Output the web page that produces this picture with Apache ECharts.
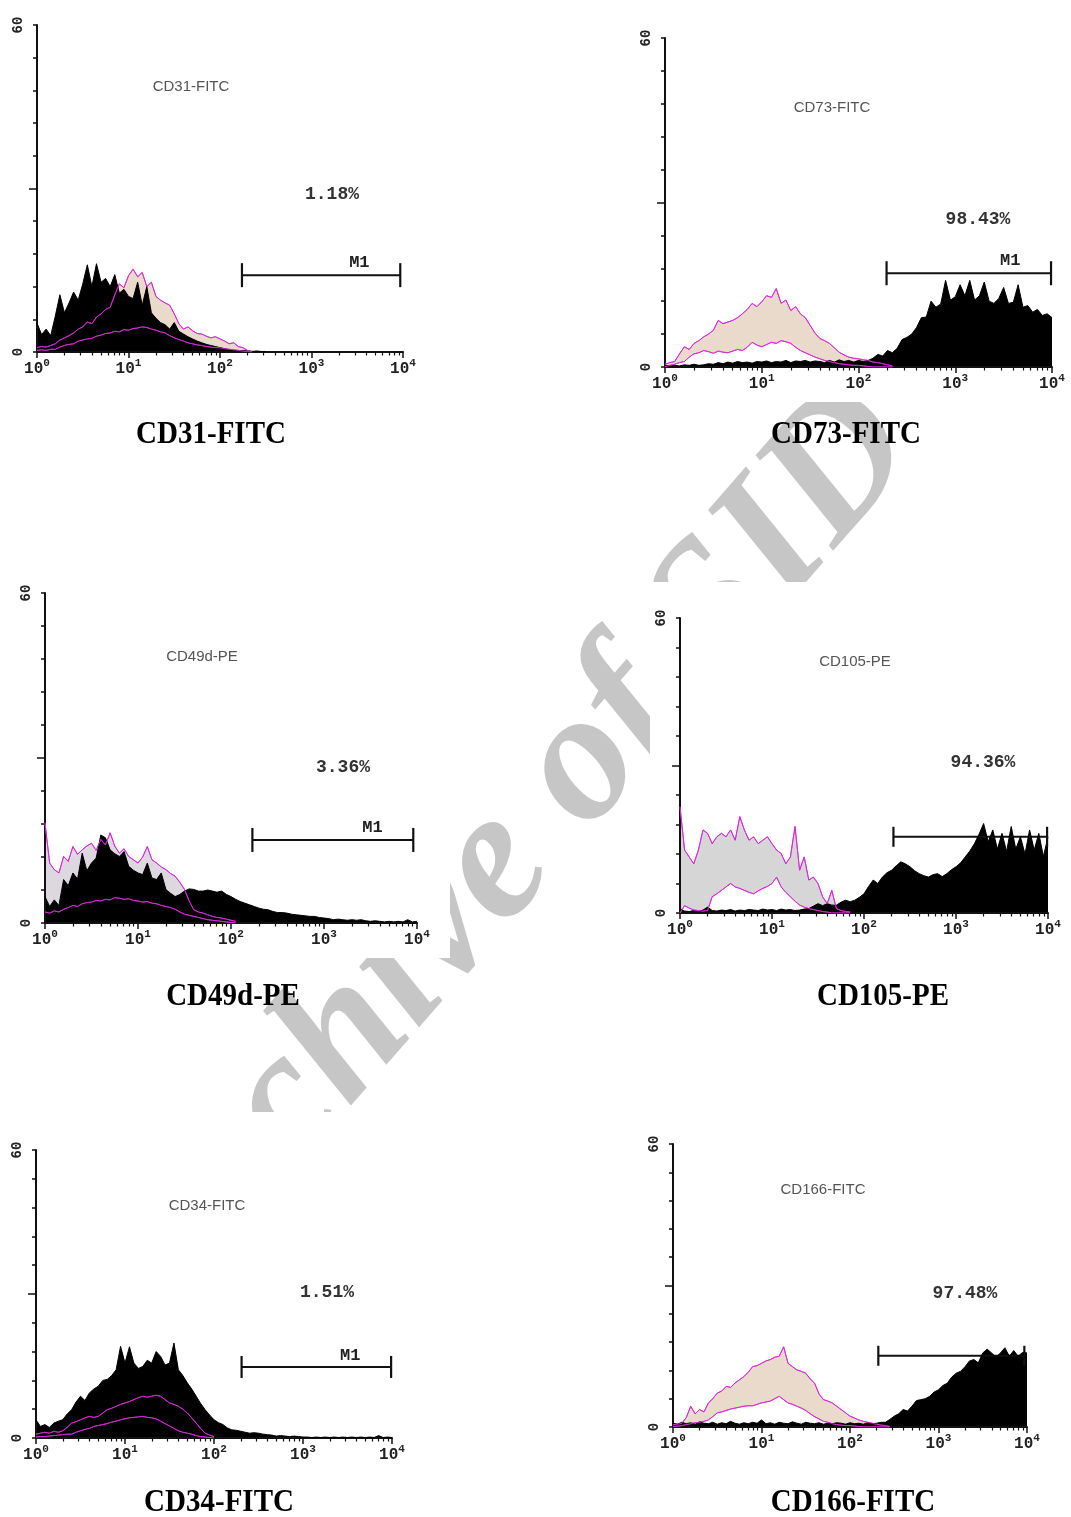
<!DOCTYPE html>
<html><head><meta charset="utf-8">
<script src="https://cdn.jsdelivr.net/npm/echarts@6/dist/echarts.min.js"></script>
<style>html,body{margin:0;padding:0;background:#fff}#c{width:1071px;height:1517px}</style>
</head><body><div id="c"></div>
<script>
// ---------------- DATA ----------------
// fluorescence channel positions, in decades (10^0 .. 10^4)
const CHANNELS = [0,0.05,0.1,0.15,0.2,0.25,0.3,0.35,0.4,0.45,0.5,0.55,0.6,0.65,0.7,0.75,0.8,0.85,0.9,0.95,
  1,1.05,1.1,1.15,1.2,1.25,1.3,1.35,1.4,1.45,1.5,1.55,1.6,1.65,1.7,1.75,1.8,1.85,1.9,1.95,
  2,2.05,2.1,2.15,2.2,2.25,2.3,2.35,2.4,2.45,2.5,2.55,2.6,2.65,2.7,2.75,2.8,2.85,2.9,2.95,
  3,3.05,3.1,3.15,3.2,3.25,3.3,3.35,3.4,3.45,3.5,3.55,3.6,3.65,3.7,3.75,3.8,3.85,3.9,3.95,4];

const MARKERS = ['CD31-FITC','CD73-FITC','CD49d-PE','CD105-PE','CD34-FITC','CD166-FITC'];
const PERCENT_LABELS = ['1.18%','98.43%','3.36%','94.36%','1.51%','97.48%'];
const GATE_LABEL = 'M1';
const GATE_FROM = [2.24,2.29,2.23,2.32,2.31,2.32];
const GATE_TO = [3.97,3.99,3.96,3.99,3.99,3.97];
const GATE_LEVEL = [14.1,17.1,15.1,15.5,14.8,15.1];
const GATE_LABEL_SHOWN = [true,true,true,false,true,false];
const X_TICK_BASE = '10';
const X_TICK_EXPONENTS = ['0','1','2','3','4'];
const Y_TICK_LABELS = [0,60];
const WATERMARK = 'Archive of SID';

// counts per channel: stained sample (black) and isotype control (upper / lower trace)
const CD31_SAMPLE = [5.3,3.2,4.2,3.0,6.6,10.5,7.2,9.0,11.0,9.5,12.5,16.0,12.0,16.2,12.8,13.5,12.0,14.2,10.8,11.5,
  10.2,9.8,12.8,8.6,12.0,7.2,6.2,5.4,5.0,4.2,5.4,3.8,3.3,2.8,2.4,2.0,1.7,1.4,1.2,1.0,
  0.8,0.6,0.4,0.3,0.2,0.3,0.2,0.1,0.2,0.1,0.1];
const CD31_CTRL_HIGH = [0.8,1.0,0.9,1.2,1.5,2.2,2.6,3.0,3.5,4.2,4.6,5.5,5.2,6.4,7.0,7.8,8.2,10.5,12.5,11.8,
  14.0,15.2,13.8,14.6,12.0,12.8,10.2,9.5,9.0,8.6,7.0,5.2,4.2,4.6,3.9,3.4,3.3,2.9,2.6,2.8,
  2.4,2.0,1.5,1.7,1.0,0.8,0.3,0.1];
const CD31_CTRL_LOW = [0.3,0.4,0.3,0.5,0.5,0.9,1.2,1.4,1.5,2.0,2.2,2.4,2.5,2.9,3.1,3.4,3.5,3.8,3.7,4.1,
  4.0,4.3,4.4,4.6,4.5,4.2,4.0,3.7,3.5,3.0,2.6,2.3,2.0,1.7,1.5,1.3,1.2,1.0,0.9,0.8,
  0.8,0.6,0.5,0.4,0.3,0.2,0.1,0];

const CD73_SAMPLE = [0.3,0.2,0.3,0.2,0.4,0.3,0.5,0.3,0.4,0.6,0.5,0.8,0.6,0.9,0.7,1.0,0.8,0.9,0.7,1.0,
  0.9,1.1,0.8,1.0,0.9,1.2,0.8,1.1,1.0,1.2,0.9,1.1,1.0,0.8,1.2,0.9,1.3,1.0,1.2,0.9,
  1.2,1.0,1.2,1.6,2.3,2.0,3.0,2.6,3.4,5.0,5.4,6.0,7.2,9.0,9.1,12.0,10.9,11.5,15.8,12.2,
  12.8,15.0,13.0,15.8,12.2,13.0,15.5,12.0,11.6,12.5,14.5,11.6,11.8,15.0,10.9,11.2,10.0,10.5,9.4,9.7,9.0];
const CD73_CTRL_HIGH = [0.5,0.8,1.0,2.4,3.7,3.2,4.3,4.8,5.5,6.0,6.7,8.5,7.9,8.2,8.5,9.0,9.7,10.5,11.6,11.0,
  11.9,13.0,12.7,14.3,11.6,12.2,10.3,11.0,9.7,9.0,7.6,6.2,5.2,4.8,4.3,3.5,2.7,2.2,1.8,1.6,
  1.5,1.3,1.2,0.9,0.8,0.6,0.4,0.2];
const CD73_CTRL_LOW = [0.1,0.3,0.5,0.8,1.0,1.8,2.4,2.6,3.0,2.8,2.5,2.9,2.7,2.6,2.9,3.2,3.0,3.6,4.5,4.0,
  3.7,4.1,4.5,4.3,4.8,4.6,4.3,3.6,3.0,2.6,2.2,1.8,1.5,1.2,1.0,0.8,0.6,0.5,0.4,0.3,
  0.3,0.2,0.1,0,0,0,0,0];

const CD49D_SAMPLE = [4.8,3.0,4.2,3.2,7.9,6.8,9.1,8.0,12.7,9.5,10.9,11.8,16.0,15.5,13.3,12.6,12.1,13.0,10.3,9.6,
  9.1,8.8,10.9,8.2,7.9,9.1,6.1,5.4,4.8,5.2,5.8,6.2,6.1,5.8,5.8,6.0,5.8,5.6,5.8,5.2,
  4.8,4.3,3.9,3.6,3.3,3.0,2.7,2.5,2.4,2.1,1.9,1.9,1.8,1.6,1.5,1.4,1.3,1.2,1.2,1.0,
  0.9,0.8,0.6,0.7,0.6,0.5,0.6,0.5,0.6,0.4,0.3,0.4,0.3,0.2,0.3,0.2,0.3,0.2,0.6,0.2,0.3];
const CD49D_CTRL_HIGH = [18.2,10.9,9.7,9.1,12.1,11.2,13.9,12.5,13.3,14.0,14.5,13.2,15.2,14.2,16.4,14.0,12.7,13.5,12.1,11.5,
  10.9,12.0,13.9,11.5,10.9,10.2,9.7,9.0,8.5,7.4,6.1,4.0,2.4,2.0,1.8,1.5,1.2,1.0,0.9,0.7,
  0.5,0.3];
const CD49D_CTRL_LOW = [2.0,1.8,2.2,2.0,2.5,2.8,3.2,3.0,3.5,3.7,3.8,4.1,4.0,4.3,4.2,4.6,4.5,4.3,4.4,4.1,
  4.0,3.8,3.9,3.6,3.5,3.2,3.0,2.8,2.5,2.0,1.6,1.4,1.2,1.0,0.8,0.6,0.5,0.4,0.3,0.2,
  0.1,0];

const CD105_SAMPLE = [0.8,0.4,0.3,0.5,0.3,0.6,1.2,0.5,0.4,0.6,0.5,0.7,0.4,0.6,0.5,0.7,0.6,0.5,0.8,0.6,
  0.7,0.5,0.8,0.6,0.7,0.5,0.6,0.8,0.9,1.4,1.9,1.5,1.9,1.6,1.6,2.2,2.6,2.3,2.6,3.2,
  3.9,5.4,6.7,6.0,7.3,8.2,8.7,9.6,10.4,10.0,9.4,8.6,8.0,7.6,7.3,7.8,8.0,7.4,8.0,8.8,
  9.4,10.2,11.4,12.6,14.1,16.0,18.2,14.5,16.9,13.0,16.2,12.5,17.6,13.0,15.5,12.0,16.9,12.8,16.2,11.5,15.5];
const CD105_CTRL_HIGH = [21.6,12.8,11.4,10.0,12.8,16.9,16.2,14.1,15.5,16.2,15.5,16.9,14.8,19.6,16.9,14.8,15.5,14.1,14.8,15.5,
  14.1,12.8,12.1,10.0,11.4,17.6,8.7,11.4,6.7,7.3,6.0,3.3,1.9,4.6,0.9,0.5,0.3,0.2];
const CD105_CTRL_LOW = [0.0,1.5,1.0,0.6,0.5,0.4,0.5,3.3,3.9,4.6,5.3,6.0,5.3,5.0,4.6,4.2,3.9,4.5,5.0,5.4,
  6.0,7.3,5.3,4.2,3.3,2.4,1.6,1.2,0.9,0.7,0.5,0.3,0.2,0,0,0,0,0];

const CD34_SAMPLE = [3.8,2.4,2.8,2.2,3.1,3.5,3.8,5.0,5.9,7.5,8.7,7.8,9.4,10.2,10.8,12.0,12.2,13.0,14.2,19.1,
  15.6,19.0,15.6,14.5,14.9,16.2,15.6,18.0,17.0,15.2,15.6,19.8,14.2,13.0,11.5,10.2,8.7,7.2,5.9,4.8,
  3.8,3.2,2.8,2.1,1.7,1.6,1.4,1.2,1.0,1.1,1.0,0.8,0.7,0.6,0.4,0.5,0.4,0.3,0.4,0.3,
  0.2,0.2,0.1,0.2,0.1,0.2,0.1,0.2,0.1,0.2,0.1,0.2,0.1,0.2,0.1,0.2,0.1,0.5,0.1,0.2,0.1];
const CD34_CTRL_HIGH = [0.8,1.0,1.2,1.0,1.4,1.2,1.5,2.2,3.1,3.4,3.8,4.2,4.5,4.3,4.5,5.2,5.9,6.2,6.6,7.0,
  7.3,7.6,8.0,8.4,8.7,8.5,8.7,8.9,8.7,8.0,7.3,7.0,6.6,6.0,5.2,4.2,3.1,2.0,1.0,0.6,
  0.3];
const CD34_CTRL_LOW = [0.2,0.3,0.3,0.4,0.5,0.6,0.7,0.8,0.8,1.2,1.5,1.8,2.0,2.4,2.6,2.8,3.0,3.3,3.5,3.8,
  4.0,4.2,4.3,4.4,4.5,4.3,4.2,4.0,3.5,3.0,2.5,2.0,1.5,1.2,1.0,0.8,0.5,0.3,0.2,0.1,
  0];

const CD166_SAMPLE = [0.8,0.6,1.0,0.7,0.9,0.6,1.1,0.8,0.7,1.0,0.6,0.9,0.7,1.2,0.8,0.6,0.9,0.7,1.0,0.8,
  1.5,0.7,0.9,0.6,1.0,0.8,0.7,1.1,0.8,0.6,1.0,0.8,0.7,0.9,0.6,0.8,0.7,0.9,0.8,0.6,
  0.9,0.7,0.8,0.6,0.9,0.7,0.8,1.0,1.0,1.6,2.3,2.8,3.7,3.4,4.4,5.6,5.8,6.0,6.5,7.4,
  7.9,8.8,9.3,10.6,11.4,11.8,12.8,14.0,14.3,13.6,15.7,16.5,15.7,14.8,15.7,16.8,15.0,16.2,15.0,15.8,15.7];
const CD166_CTRL_HIGH = [0.5,0.6,0.8,2.0,4.4,2.8,3.7,3.2,5.1,6.0,7.2,7.6,8.6,8.4,9.3,10.0,10.7,11.6,12.8,13.0,
  13.5,14.0,14.3,14.8,15.0,17.0,13.5,12.8,12.1,11.8,11.4,10.2,9.3,7.0,5.8,5.5,5.1,4.4,3.7,3.0,
  2.3,1.9,1.5,1.2,1.0,0.8,0.6,0.4,0.3,0.1];
const CD166_CTRL_LOW = [0.1,0.2,0.3,0.5,0.7,0.9,1.0,1.2,1.5,2.2,3.0,3.2,3.5,3.8,4.0,4.2,4.4,4.5,4.5,4.8,
  5.1,5.3,5.5,6.0,6.5,5.8,5.1,4.8,4.4,4.0,3.5,2.8,2.2,1.7,1.2,1.0,0.7,0.5,0.4,0.3,
  0.3,0.2,0.1,0,0,0,0,0,0,0];

const SAMPLES = [CD31_SAMPLE, CD73_SAMPLE, CD49D_SAMPLE, CD105_SAMPLE, CD34_SAMPLE, CD166_SAMPLE];
const CTRL_HIGH = [CD31_CTRL_HIGH, CD73_CTRL_HIGH, CD49D_CTRL_HIGH, CD105_CTRL_HIGH, CD34_CTRL_HIGH, CD166_CTRL_HIGH];
const CTRL_LOW = [CD31_CTRL_LOW, CD73_CTRL_LOW, CD49D_CTRL_LOW, CD105_CTRL_LOW, CD34_CTRL_LOW, CD166_CTRL_LOW];

// ---------------- LAYOUT / STYLE ----------------
const PLOT_RECTS = [[37,25,366,327],[665,38,387,329],[45,593,372,330],[680,618,368,295],[36,1150,356,288],[673,1144,354,283]];
const GATE_TICK_H = [24,24,24,20,22,20];
const INNER_LABEL_POS = [[191,87],[832,108],[202,657],[855,662],[207,1206],[823,1190]];
const PERCENT_POS = [[332,194],[978,219],[343,767],[983,762],[327,1292],[965,1293]];
const CAPTION_POS = [[211,435],[846,435],[233,997],[883,997],[219,1503],[853,1503]];
const PANEL_BG = [[0,0,425,396],[630,10,441,392],[0,575,450,383],[650,582,421,366],[0,1112,425,362],[640,1115,431,360]];
const CTRL_FILL = ['#e9dacb','#e9dacb','#ddd8e0','#d6d6d6','#ead7cd','#e9dacb'];
const MAGENTA = '#d42ad4';
const INK = '#111';

const MINOR_TICKS = [];
for (let d = 0; d < 4; d++) for (let m = 2; m <= 9; m++) MINOR_TICKS.push(d + Math.log10(m));

const grids = [], xAxes = [], yAxes = [], series = [], graphics = [];

graphics.push({
  type: 'text', z: 0, x: 508, y: 852, rotation: 49 * Math.PI / 180,
  style: { text: WATERMARK, fontFamily: 'Liberation Serif', fontWeight: 'bold', fontStyle: 'italic',
    fontSize: 185, fill: '#c6c6c6', align: 'center', verticalAlign: 'middle' }
});

function seriesData(arr) {
  return CHANNELS.map((x, k) => [x, k < arr.length ? arr[k] : null]);
}

PLOT_RECTS.forEach((r, p) => {
  const bg = PANEL_BG[p];
  graphics.push({ type: 'rect', z: 1, shape: { x: bg[0], y: bg[1], width: bg[2], height: bg[3] },
    style: { fill: '#fff' } });

  const gridMain = { left: r[0], top: r[1], width: r[2], height: r[3], containLabel: false };
  grids.push(gridMain, Object.assign({}, gridMain));
  const gi = grids.length - 2;

  xAxes.push({
    gridIndex: gi, type: 'value', min: 0, max: 4, interval: 1, z: 3,
    axisLine: { lineStyle: { color: INK, width: 2 } },
    axisTick: { length: 6, lineStyle: { color: INK, width: 1.5 } },
    splitLine: { show: false },
    axisLabel: {
      margin: 6,
      formatter: v => '{b|' + X_TICK_BASE + '}{s|' + X_TICK_EXPONENTS[Math.round(v)] + '}',
      rich: {
        b: { fontFamily: 'Liberation Mono', fontWeight: 'bold', fontSize: 16, color: '#222', lineHeight: 19, verticalAlign: 'bottom' },
        s: { fontFamily: 'Liberation Mono', fontWeight: 'bold', fontSize: 11, color: '#222', lineHeight: 19, verticalAlign: 'top' }
      }
    }
  }, {
    gridIndex: gi + 1, type: 'value', min: 0, max: 4, z: 3,
    axisLine: { show: false }, splitLine: { show: false }, axisLabel: { show: false },
    axisTick: { customValues: MINOR_TICKS, length: 3.5, lineStyle: { color: INK, width: 1.2 } }
  });
  yAxes.push({
    gridIndex: gi, type: 'value', min: 0, max: 60, interval: 6, z: 3,
    axisLine: { lineStyle: { color: INK, width: 2 } },
    axisTick: { length: 4, lineStyle: { color: INK, width: 1.5 } },
    splitLine: { show: false },
    axisLabel: { customValues: Y_TICK_LABELS, rotate: 90, margin: 12,
      fontFamily: 'Liberation Mono', fontWeight: 'bold', fontSize: 14, color: '#222' }
  }, {
    gridIndex: gi + 1, type: 'value', min: 0, max: 60, z: 3,
    axisLine: { show: false }, splitLine: { show: false }, axisLabel: { show: false },
    axisTick: { customValues: [30], length: 8, lineStyle: { color: INK, width: 1.5 } }
  });

  // gate marker M1
  series.push({
    type: 'line', xAxisIndex: gi, yAxisIndex: gi, silent: true, animation: false,
    lineStyle: { color: INK, width: 2 }, itemStyle: { color: INK },
    symbol: 'rect', symbolSize: [2.2, GATE_TICK_H[p]], showSymbol: true,
    data: [
      [GATE_FROM[p], GATE_LEVEL[p]],
      { value: [GATE_TO[p], GATE_LEVEL[p]],
        label: { show: GATE_LABEL_SHOWN[p], formatter: GATE_LABEL, position: [-50, -9],
          fontFamily: 'Liberation Mono', fontWeight: 'bold', fontSize: 17, color: '#222' } }
    ]
  });

  const hiData = seriesData(CTRL_HIGH[p]), loData = seriesData(CTRL_LOW[p]);
  const base = { type: 'line', xAxisIndex: gi, yAxisIndex: gi, silent: true, animation: false, showSymbol: false, symbol: 'none' };
  // isotype control: band between its upper and lower traces
  series.push(Object.assign({}, base, {
    lineStyle: { color: MAGENTA, width: 1 }, areaStyle: { color: CTRL_FILL[p], opacity: 1 }, data: hiData
  }), Object.assign({}, base, {
    lineStyle: { color: MAGENTA, width: 1 }, areaStyle: { color: '#fff', opacity: 1 }, data: loData
  }));
  // stained sample
  series.push(Object.assign({}, base, {
    lineStyle: { color: '#000', width: 1 }, areaStyle: { color: '#000', opacity: 1 }, data: seriesData(SAMPLES[p])
  }));
  // control traces showing through the sample overlay
  series.push(Object.assign({}, base, {
    lineStyle: { color: MAGENTA, width: 1, opacity: 0.8 }, data: hiData
  }), Object.assign({}, base, {
    lineStyle: { color: MAGENTA, width: 1, opacity: 0.8 }, data: loData
  }));

  graphics.push({
    type: 'text', z: 4, x: INNER_LABEL_POS[p][0], y: INNER_LABEL_POS[p][1],
    style: { text: MARKERS[p], fontFamily: 'Liberation Sans', fontSize: 15, fill: '#555', align: 'center', verticalAlign: 'middle' }
  }, {
    type: 'text', z: 4, x: PERCENT_POS[p][0], y: PERCENT_POS[p][1],
    style: { text: PERCENT_LABELS[p], fontFamily: 'Liberation Mono', fontWeight: 'bold', fontSize: 18, fill: '#333', align: 'center', verticalAlign: 'middle' }
  }, {
    type: 'text', z: 4, x: CAPTION_POS[p][0], y: CAPTION_POS[p][1], scaleY: 1.12,
    style: { text: MARKERS[p], fontFamily: 'Liberation Serif', fontWeight: 'bold', fontSize: 29, fill: '#000', align: 'center', verticalAlign: 'middle' }
  });
});

const chart = echarts.init(document.getElementById('c'), null, { renderer: 'canvas' });
chart.setOption({
  backgroundColor: '#fff',
  animation: false,
  grid: grids, xAxis: xAxes, yAxis: yAxes, series: series,
  graphic: { elements: graphics }
});
</script></body></html>
